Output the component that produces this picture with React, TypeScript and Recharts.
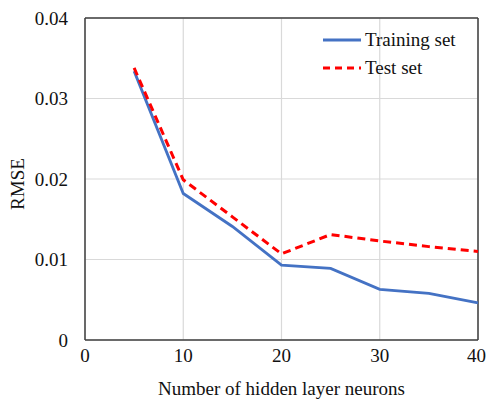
import { LineChart, Line, XAxis, YAxis, CartesianGrid, Legend, ReferenceLine, Label } from 'recharts';

// hidden layer neurons vs RMSE
const neurons = [5, 10, 15, 20, 25, 30, 35, 40];
const trainingRmse = [0.0334, 0.0182, 0.0141, 0.0093, 0.0089, 0.0063, 0.0058, 0.0046];
const testRmse = [0.0338, 0.0199, 0.0153, 0.0107, 0.0131, 0.0123, 0.0116, 0.011];

const xTicks = [0, 10, 20, 30, 40];
const yTicks = [0, 0.01, 0.02, 0.03, 0.04];

const seriesNames = ['Training set', 'Test set'];

const data = neurons.map((n, i) => ({
  neurons: n,
  training: trainingRmse[i],
  test: testRmse[i],
}));

const FONT = '"Liberation Serif", "Times New Roman", serif';
const BLUE = '#4472c4';
const RED = '#ff0000';
const AXIS = '#3f3f3f';

function LegendBox() {
  const styles = [
    { color: BLUE, dash: undefined as string | undefined },
    { color: RED, dash: '7 5' },
  ];
  return (
    <div style={{ fontFamily: FONT, fontSize: 19, color: '#111' }}>
      {seriesNames.map((name, i) => (
        <div key={name} style={{ display: 'flex', alignItems: 'center', height: 28 }}>
          <svg width={38} height={6} style={{ display: 'block' }}>
            <line x1={0} y1={3} x2={38} y2={3} stroke={styles[i].color} strokeWidth={3} strokeDasharray={styles[i].dash} />
          </svg>
          <span style={{ marginLeft: 4, lineHeight: '28px' }}>{name}</span>
        </div>
      ))}
    </div>
  );
}

export default function App() {
  return (
    <div style={{ position: 'absolute', left: 0, top: 0, width: 486, height: 400, background: '#fff' }}>
      <LineChart width={486} height={400} data={data} margin={{ top: 18, right: 8, left: 0, bottom: 0 }}>
        <CartesianGrid stroke="#d9d9d9" strokeWidth={1.2} />
        <XAxis
          dataKey="neurons"
          type="number"
          domain={[0, 40]}
          ticks={xTicks}
          height={60}
          tickSize={0}
          tickMargin={9}
          tickLine={false}
          stroke={AXIS}
          strokeWidth={1.5}
          tick={{ fontFamily: FONT, fontSize: 19, fill: '#111' }}
        >
          <Label
            value="Number of hidden layer neurons"
            position="insideBottom"
            offset={5}
            style={{ fontFamily: FONT, fontSize: 19, fill: '#111' }}
          />
        </XAxis>
        <YAxis
          type="number"
          domain={[0, 0.04]}
          ticks={yTicks}
          width={85}
          tickSize={0}
          tickMargin={17}
          tickLine={false}
          stroke={AXIS}
          strokeWidth={1.5}
          tickFormatter={(v: number) => (v === 0 ? '0' : String(v))}
          tick={{ fontFamily: FONT, fontSize: 19, fill: '#111' }}
        >
          <Label
            content={() => (
              <text
                x={17}
                y={184}
                transform="rotate(-90 17 184)"
                textAnchor="middle"
                dominantBaseline="central"
                style={{ fontFamily: FONT, fontSize: 19, fill: '#111' }}
              >
                RMSE
              </text>
            )}
          />
        </YAxis>
        <ReferenceLine y={0.04} stroke={AXIS} strokeWidth={1.5} />
        <ReferenceLine x={40} stroke={AXIS} strokeWidth={1.5} />
        <Legend
          layout="vertical"
          align="center"
          verticalAlign="middle"
          wrapperStyle={{ top: 26, left: 323, width: 160 }}
          content={() => <LegendBox />}
        />
        <Line
          type="linear"
          dataKey="training"
          name="Training set"
          stroke={BLUE}
          strokeWidth={2.8}
          dot={false}
          isAnimationActive={false}
        />
        <Line
          type="linear"
          dataKey="test"
          name="Test set"
          stroke={RED}
          strokeWidth={3}
          strokeDasharray="8 5"
          dot={false}
          isAnimationActive={false}
        />
      </LineChart>
    </div>
  );
}
